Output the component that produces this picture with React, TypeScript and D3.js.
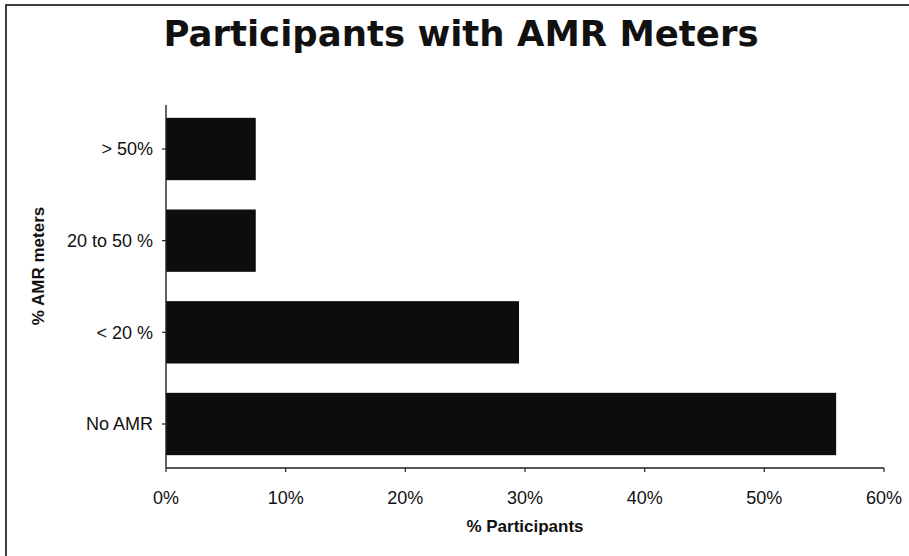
import React from "react";
import * as d3 from "d3";

// Share of participants by proportion of AMR meters installed
const categories = ["> 50%", "20 to 50 %", "< 20 %", "No AMR"];
const shares = [7.5, 7.5, 29.5, 56];
const xTicks = [0, 10, 20, 30, 40, 50, 60];

const W = 909;
const H = 556;
const plot = { left: 166, right: 884, top: 105, bottom: 468 };

export default function App() {
  const x = d3.scaleLinear().domain([0, 60]).range([plot.left, plot.right]);
  const y = d3
    .scaleBand<string>()
    .domain(categories)
    .range([plot.top, plot.bottom])
    .paddingInner(0.32)
    .paddingOuter(0.14);

  const labelFont = "'Liberation Sans', Arial, sans-serif";

  return (
    <svg
      width={W}
      height={H}
      viewBox={`0 0 ${W} ${H}`}
      style={{ position: "absolute", left: 0, top: 0, background: "#fff" }}
    >
      {/* outer frame */}
      <rect x={6} y={5} width={W + 20} height={H + 20} fill="none" stroke="#111" strokeWidth={1.6} />

      <text
        x={461}
        y={46}
        textAnchor="middle"
        fontFamily="'DejaVu Sans', Verdana, sans-serif"
        fontWeight="bold"
        fontSize={35.5}
        fill="#111"
      >
        Participants with AMR Meters
      </text>

      {/* bars */}
      {categories.map((c, i) => (
        <rect
          key={c}
          x={x(0)}
          y={y(c)}
          width={x(shares[i]) - x(0)}
          height={y.bandwidth()}
          fill="#0d0d0d"
        />
      ))}

      {/* value axis */}
      <line x1={plot.left} x2={plot.right} y1={plot.bottom} y2={plot.bottom} stroke="#222" strokeWidth={1.4} />
      {xTicks.map((t) => (
        <g key={t}>
          <line x1={x(t)} x2={x(t)} y1={plot.bottom} y2={plot.bottom + 4} stroke="#222" strokeWidth={1.2} />
          <text
            x={x(t)}
            y={504}
            textAnchor="middle"
            fontFamily={labelFont}
            fontSize={18}
            fill="#111"
          >
            {`${t}%`}
          </text>
        </g>
      ))}

      {/* category axis */}
      <line x1={plot.left} x2={plot.left} y1={plot.top} y2={plot.bottom} stroke="#222" strokeWidth={1.4} />
      {categories.map((c) => (
        <g key={c}>
          <line
            x1={plot.left - 4}
            x2={plot.left}
            y1={(y(c) ?? 0) + y.bandwidth() / 2}
            y2={(y(c) ?? 0) + y.bandwidth() / 2}
            stroke="#222"
            strokeWidth={1.2}
          />
          <text
            x={153}
            y={(y(c) ?? 0) + y.bandwidth() / 2}
            dy="0.35em"
            textAnchor="end"
            fontFamily={labelFont}
            fontSize={18}
            fill="#111"
          >
            {c}
          </text>
        </g>
      ))}

      <text
        x={(plot.left + plot.right) / 2}
        y={532}
        textAnchor="middle"
        fontFamily={labelFont}
        fontSize={17}
        fontWeight="bold"
        fill="#111"
      >
        % Participants
      </text>

      <text
        transform={`translate(44, 266) rotate(-90)`}
        textAnchor="middle"
        fontFamily={labelFont}
        fontSize={17}
        fontWeight="bold"
        fill="#111"
      >
        % AMR meters
      </text>
    </svg>
  );
}
